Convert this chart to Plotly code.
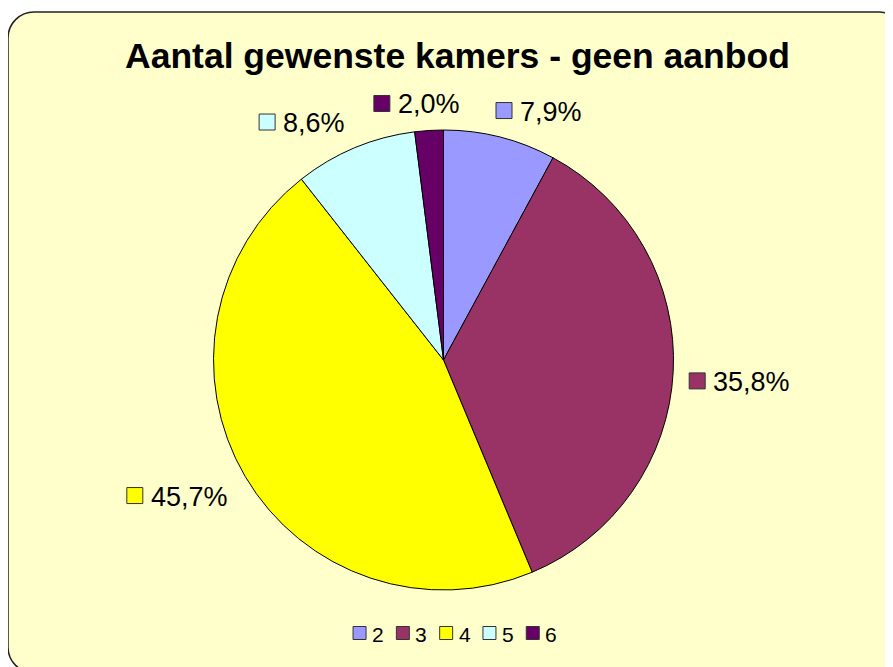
import math
import plotly.graph_objects as go

# the page body has an 8px margin, so screen pixels are shifted by this much
OFF = 8
W, H = 893, 667 - OFF

categories = ['2', '3', '4', '5', '6']
percentages = [7.9, 35.8, 45.7, 8.6, 2.0]
label_texts = ['7,9%', '35,8%', '45,7%', '8,6%', '2,0%']
colors = ['#9999FF', '#993366', '#FFFF00', '#CCFFFF', '#660066']
title_text = 'Aantal gewenste kamers - geen aanbod'

FONT = 'Arial, Liberation Sans, sans-serif'
CX, CY, R = 443.5, 360, 230
LABEL_SIZE = 27
LEGEND_SIZE = 21

# rough Arial advance widths (em)
CHAR_W = {',': 0.278, '%': 0.889}


def px(x):
    return (x - OFF) / W


def py(y):
    return 1 - (y - OFF) / H


def text_width(txt, size):
    return sum(CHAR_W.get(c, 0.556) for c in txt) * size


def clamp(v, lo, hi):
    return max(lo, min(hi, v))


fig = go.Figure()

fig.add_trace(go.Pie(
    labels=categories,
    values=percentages,
    sort=False,
    direction='clockwise',
    rotation=0,
    textinfo='none',
    hoverinfo='label+percent',
    marker=dict(colors=colors, line=dict(color='black', width=1)),
    domain=dict(x=[px(CX - R), px(CX + R)], y=[py(CY + R), py(CY - R)]),
    showlegend=False,
))

shapes = []
annotations = []

# rounded frame of the chart area (right and bottom sides run off the page)
x0, y0, x1, y1, r = 8, 12, 905, 673, 26
k = 0.4477 * r


def P(x, y):
    return f'{px(x):.5f},{py(y):.5f}'


frame = (f'M {P(x0 + r, y0)} L {P(x1 - r, y0)} '
         f'C {P(x1 - k, y0)} {P(x1, y0 + k)} {P(x1, y0 + r)} '
         f'L {P(x1, y1 - r)} '
         f'C {P(x1, y1 - k)} {P(x1 - k, y1)} {P(x1 - r, y1)} '
         f'L {P(x0 + r, y1)} '
         f'C {P(x0 + k, y1)} {P(x0, y1 - k)} {P(x0, y1 - r)} '
         f'L {P(x0, y0 + r)} '
         f'C {P(x0, y0 + k)} {P(x0 + k, y0)} {P(x0 + r, y0)} Z')
shapes.append(dict(type='path', xref='paper', yref='paper', path=frame,
                   fillcolor='#FFFFCC', line=dict(color='#222222', width=1.5),
                   layer='below'))

# data labels outside each slice, with a coloured key square
total = sum(percentages)
cum = 0
SQ, GAP = 16, 8
for v, txt, col in zip(percentages, label_texts, colors):
    mid = (cum + v / 2) / total * 2 * math.pi
    cum += v
    dx, dy = math.sin(mid), -math.cos(mid)
    t = R + 16
    ax, ay = CX + t * dx, CY + t * dy
    bw = SQ + GAP + text_width(txt, LABEL_SIZE) + 4
    bh = 22
    cx = ax + clamp(150 * dx, -bw / 2, bw / 2)
    cy = ay + clamp(170 * dy, -bh / 2, bh / 2)
    left = cx - bw / 2
    shapes.append(dict(type='rect', xref='paper', yref='paper',
                       x0=px(left), x1=px(left + SQ),
                       y0=py(cy + SQ / 2), y1=py(cy - SQ / 2),
                       fillcolor=col, line=dict(color='#333333', width=1),
                       layer='above'))
    annotations.append(dict(x=px(left + SQ + GAP - 2), y=py(cy + 1), xref='paper', yref='paper',
                            text=txt, showarrow=False, xanchor='left', yanchor='middle',
                            font=dict(family=FONT, size=LABEL_SIZE, color='black')))

# legend row at the bottom
LSQ, LGAP, PITCH = 13, 6, 43.3
leg_w = PITCH * (len(categories) - 1) + LSQ + LGAP + text_width('6', LEGEND_SIZE)
lx = 455 - leg_w / 2
ly = 633
for i, (cat, col) in enumerate(zip(categories, colors)):
    sx = lx + i * PITCH
    shapes.append(dict(type='rect', xref='paper', yref='paper',
                       x0=px(sx), x1=px(sx + LSQ),
                       y0=py(ly + LSQ / 2), y1=py(ly - LSQ / 2),
                       fillcolor=col, line=dict(color='#333333', width=1),
                       layer='above'))
    annotations.append(dict(x=px(sx + LSQ + LGAP - 2), y=py(ly + 1), xref='paper', yref='paper',
                            text=cat, showarrow=False, xanchor='left', yanchor='middle',
                            font=dict(family=FONT, size=LEGEND_SIZE, color='black')))

# title
annotations.append(dict(x=px(457.5), y=py(56), xref='paper', yref='paper',
                        text=f'<b>{title_text}</b>', showarrow=False,
                        xanchor='center', yanchor='middle',
                        font=dict(family=FONT, size=35.5, color='black')))

fig.update_layout(
    width=W, height=H,
    margin=dict(l=0, r=0, t=0, b=0),
    paper_bgcolor='white',
    plot_bgcolor='white',
    shapes=shapes,
    annotations=annotations,
    showlegend=False,
)

fig.write_html('out.html')
